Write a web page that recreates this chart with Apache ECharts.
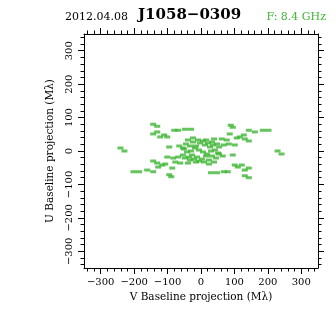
<!DOCTYPE html>
<html>
<head>
<meta charset="utf-8">
<script src="https://cdn.jsdelivr.net/npm/echarts@6/dist/echarts.min.js"></script>
<style>
  html, body { margin: 0; padding: 0; background: #fff; }
  #chart { width: 336px; height: 336px; }
</style>
</head>
<body>
<div id="chart"></div>
<script>
// Header texts
const obsDate = '2012.04.08';
const sourceName = 'J1058\u22120309';
const bandLabel = 'F: 8.4 GHz';

// Axis ticks (M-lambda)
const majorTicks = [-300, -200, -100, 0, 100, 200, 300];
const minorTicks = [-340, -320, -300, -280, -260, -240, -220, -200, -180, -160, -140, -120,
  -100, -80, -60, -40, -20, 0, 20, 40, 60, 80, 100, 120, 140, 160, 180, 200, 220, 240,
  260, 280, 300, 320, 340];

// uv coverage samples: V (horizontal) and U (vertical) baseline projections, M-lambda
const vBaseline = [
  -241, -229, -202, -185, -161, -143, -143, -131, -143, -131, -80, -68, -48, -30,
  -122, -110, -101, -95, -65, -54, -143, -131, -116, -128, -107, -86, -95, -89,
  -101, -83, -68, -54, -77, -62,
  -39, -24, -9, -33, -18, -6, -42, -27, -12, -33, -15, -48,
  -45, -30, -15, -3, -39, -21, -6, -51, -36, -24,
  241, 229, 202, 185, 161, 143, 143, 131, 143, 131, 80, 68, 48, 30,
  122, 110, 101, 95, 65, 54, 143, 131, 116, 128, 107, 86, 95, 89,
  101, 83, 68, 54, 77, 62,
  39, 24, 9, 33, 18, 6, 42, 27, 12, 33, 15, 48,
  45, 30, 15, 3, 39, 21, 6, 51, 36, 24
];
const uBaseline = [
  9, 0, -62, -62, -57, -62, 80, 74, 51, 57, 62, 62, 65, 65,
  42, 48, 42, 12, 15, 9, -30, -36, -42, -48, -39, -51, -71, -77,
  -18, -21, -18, -12, -33, -36,
  33, 27, 33, 15, 9, 3, -3, -12, -18, -27, -33, -21,
  21, 0, 15, 24, -36, -24, -30, 6, -18, 39,
  -9, 0, 62, 62, 57, 62, -80, -74, -51, -57, -62, -62, -65, -65,
  -42, -48, -42, -12, -15, -9, 30, 36, 42, 48, 39, 51, 71, 77,
  18, 21, 18, 12, 33, 36,
  -33, -27, -33, -15, -9, -3, 3, 12, 18, 27, 33, 21,
  -21, 0, -15, -24, 36, 24, 30, -6, 18, -39
];

const FONT = 'DejaVu Serif';
const INK = '#000000';
const GREEN = '#3fb534';
const fmtTick = v => (v < 0 ? '\u2212' + (-v) : String(v));

function makeAxis(position, ticks, tickLen, opts) {
  const o = opts || {};
  return Object.assign({
    type: 'value',
    position: position,
    min: -350,
    max: 350,
    axisLine: { show: !!o.line, onZero: false, lineStyle: { color: INK, width: 1 } },
    axisTick: { show: true, inside: false, customValues: ticks, length: tickLen,
                lineStyle: { color: INK, width: 1 } },
    axisLabel: { show: false },
    splitLine: { show: false },
    minorTick: { show: false }
  }, o.extra || {});
}

const labelStyle = { color: INK, fontFamily: FONT, fontSize: 10 };
const nameStyle = { color: INK, fontFamily: FONT, fontSize: 10.5 };

const xAxes = [
  makeAxis('bottom', majorTicks, 6, { line: true, extra: {
    axisLabel: Object.assign({ show: true, customValues: majorTicks, formatter: fmtTick, margin: 9 }, labelStyle),
    name: 'V Baseline projection (M\u03bb)', nameLocation: 'middle', nameGap: 22, nameTextStyle: nameStyle
  } }),
  makeAxis('bottom', minorTicks, 3.5),
  makeAxis('top', majorTicks, 6, { line: true }),
  makeAxis('top', minorTicks, 3.5)
];

const yAxes = [
  makeAxis('left', majorTicks, 6, { line: true, extra: {
    axisLabel: Object.assign({ show: true, customValues: majorTicks, formatter: fmtTick, margin: 10, rotate: 90 }, labelStyle),
    name: 'U Baseline projection (M\u03bb)', nameLocation: 'middle', nameGap: 16, nameRotate: 90, nameTextStyle: nameStyle
  } }),
  makeAxis('left', minorTicks, 3.5),
  makeAxis('right', majorTicks, 6, { line: true }),
  makeAxis('right', minorTicks, 3.5)
];

const points = vBaseline.map((v, i) => [v, uBaseline[i]]);

const chart = echarts.init(document.getElementById('chart'), null, { renderer: 'canvas' });
chart.setOption({
  animation: false,
  backgroundColor: '#ffffff',
  grid: { left: 84, top: 34, width: 234, height: 234, containLabel: false },
  xAxis: xAxes,
  yAxis: yAxes,
  graphic: [
    { type: 'text', left: 65, top: 12, style: { text: obsDate, fill: INK, font: '11px "DejaVu Serif"' } },
    { type: 'text', left: 138, top: 8, style: { text: sourceName, fill: INK, font: 'bold 15px "DejaVu Serif"' } },
    { type: 'text', right: 10, top: 12, style: { text: bandLabel, fill: GREEN, font: '11px "DejaVu Serif"' } }
  ],
  series: [{
    type: 'scatter',
    xAxisIndex: 0,
    yAxisIndex: 0,
    data: points,
    symbol: 'rect',
    symbolSize: [6, 3],
    itemStyle: { color: GREEN },
    silent: true
  }]
});
</script>
</body>
</html>
